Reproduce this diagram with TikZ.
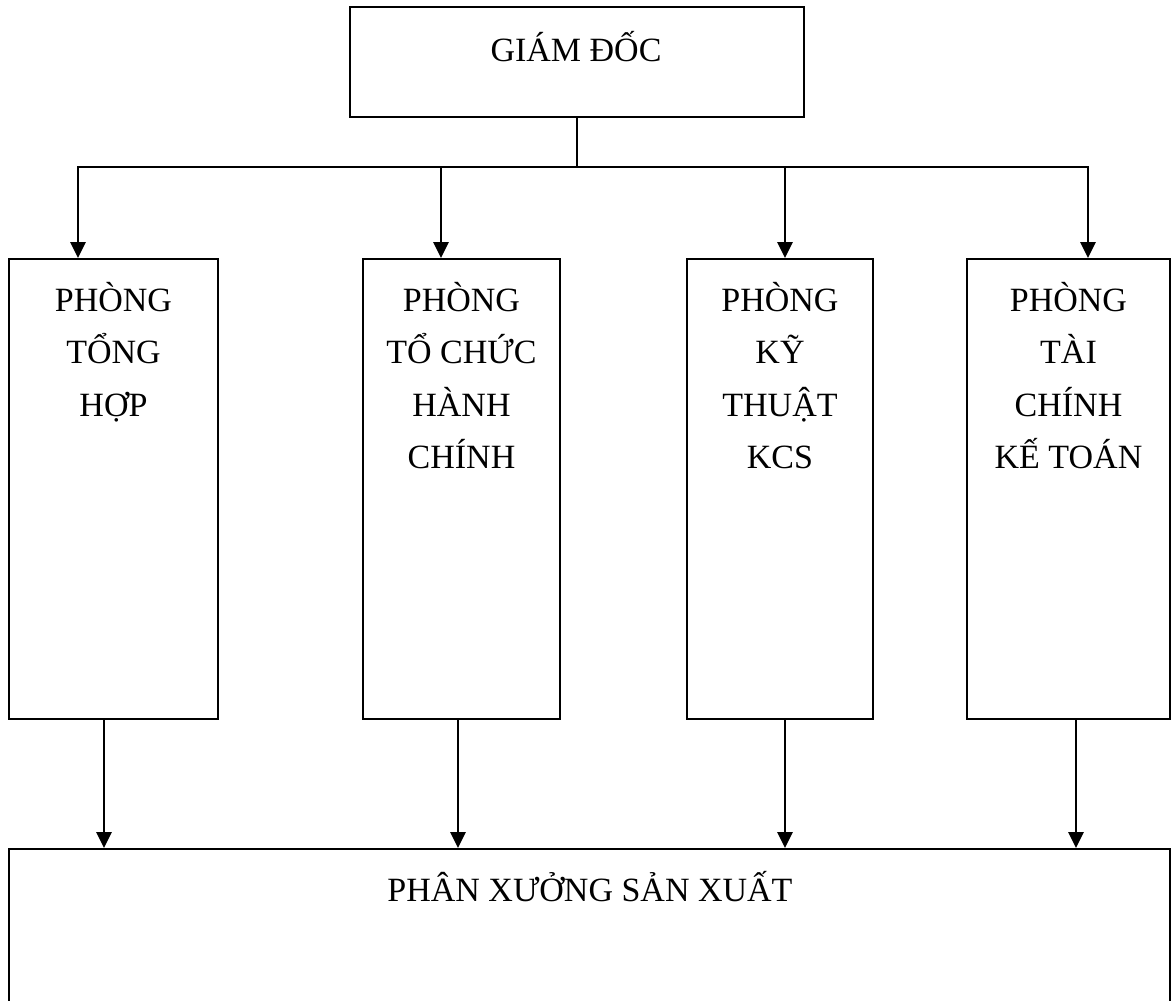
\documentclass[tikz,border=0pt]{standalone}
\usepackage{fontspec}
\setmainfont{Liberation Serif}
\usetikzlibrary{arrows.meta}

\tikzset{
  unit/.style={draw=black, line width=1.9pt, rectangle, inner sep=0pt},
  label/.style={anchor=base, inner sep=0pt, font=\fontsize{34}{52.5}\selectfont},
  link/.style={line width=2.8pt},
  flow/.style={link, -{Triangle[length=16pt,width=15pt]}}
}

\begin{document}
\begin{tikzpicture}[x=1pt, y=-1pt]
\useasboundingbox (0,0) rectangle (1171,1001);

% director
\node[unit, minimum width=454pt, minimum height=110pt] (gd) at (577,62) {};
\node[label] (gdt) at (576,61) {GIÁM ĐỐC};

% departments
\node[unit, minimum width=209pt, minimum height=460pt] (b1) at (113.5,489) {};
\node[unit, minimum width=197pt, minimum height=460pt] (b2) at (461.5,489) {};
\node[unit, minimum width=186pt, minimum height=460pt] (b3) at (780,489) {};
\node[unit, minimum width=203pt, minimum height=460pt] (b4) at (1068.5,489) {};

\node[label] (t1) at (113.5,311) {\begin{tabular}[t]{c}PHÒNG\\TỔNG\\HỢP\end{tabular}};
\node[label] (t2) at (461.5,311) {\begin{tabular}[t]{c}PHÒNG\\TỔ CHỨC\\HÀNH\\CHÍNH\end{tabular}};
\node[label] (t3) at (780,311) {\begin{tabular}[t]{c}PHÒNG\\KỸ\\THUẬT\\KCS\end{tabular}};
\node[label] (t4) at (1068.5,311) {\begin{tabular}[t]{c}PHÒNG\\TÀI\\CHÍNH\\KẾ TOÁN\end{tabular}};

% workshop (runs past the lower edge)
\node[unit, minimum width=1161pt, minimum height=170pt] (px) at (589.5,934) {};
\node[label] (pxt) at (590,901) {PHÂN XƯỞNG SẢN XUẤT};

% branching bus
\coordinate (split) at (gd.south |- 0,167);
\coordinate (s1) at (78,167);
\coordinate (s2) at (441,167);
\coordinate (s3) at (785,167);
\coordinate (s4) at (1088,167);

\draw[link] (gd.south) -- (split);
\draw[link, line cap=rect] (s1) -- (s4);
\draw[flow] (s1) -- (s1 |- b1.north);
\draw[flow] (s2) -- (s2 |- b2.north);
\draw[flow] (s3) -- (s3 |- b3.north);
\draw[flow] (s4) -- (s4 |- b4.north);

% departments to workshop
\draw[flow] (104,0 |- b1.south) -- (104,0 |- px.north);
\draw[flow] (458,0 |- b2.south) -- (458,0 |- px.north);
\draw[flow] (785,0 |- b3.south) -- (785,0 |- px.north);
\draw[flow] (1076,0 |- b4.south) -- (1076,0 |- px.north);
\end{tikzpicture}
\end{document}
